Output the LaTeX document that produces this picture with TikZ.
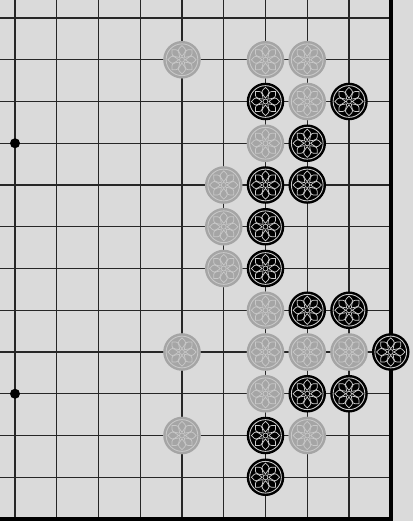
\documentclass[tikz,border=0pt]{standalone}
\usepackage{tikz}
\usetikzlibrary{positioning, calc}
\usepackage{xcolor}
\definecolor{paper}{RGB}{218,218,218}
\definecolor{whitestone}{RGB}{165,165,165}
\definecolor{whitepetal}{RGB}{200,200,200}

\tikzset{
  stone/.style={circle, minimum size=0.9cm, inner sep=0pt},
  petals/.style={
    path picture={
      \draw[#1, line width=0.6pt] (path picture bounding box.center) circle (0.38);
      \draw[#1, line width=0.5pt] (path picture bounding box.center) circle (0.06);
      \foreach \a in {0,45,...,315}
        \draw[#1, line width=0.5pt]
          ($(path picture bounding box.center)+(\a:0.08)$)
          .. controls ($(path picture bounding box.center)+(\a+26:0.26)$)
          .. ($(path picture bounding box.center)+(\a:0.34)$)
          .. controls ($(path picture bounding box.center)+(\a-26:0.26)$)
          .. ($(path picture bounding box.center)+(\a:0.08)$);
    }},
  blackstone/.style={stone, fill=black, petals=white!80!black},
  whitestone/.style={stone, fill=whitestone, petals=whitepetal},
  hoshi/.style={circle, fill=black, minimum size=0.24cm, inner sep=0pt}
}

\begin{document}
\begin{tikzpicture}[x=1cm, y=-1cm]

% Paper
\fill[paper] (-0.359,-0.431) rectangle (9.533,12.048);
\useasboundingbox (-0.359,-0.431) rectangle (9.533,12.048);

% Grid
\foreach \c in {0,...,8}
  \draw[line width=0.8pt, black!85] (\c,-0.431) -- (\c,12);
\foreach \r in {0,...,11}
  \draw[line width=0.8pt, black!85] (-0.359,\r) -- (9,\r);

% Board edges
\draw[line width=2.8pt] (9,-0.431) -- (9,12) -- (-0.359,12);

% Star points
\node[hoshi] (hoshiA) at (0,3) {};
\node[hoshi] (hoshiB) at (0,9) {};

% White stones
\foreach \c/\r in {4/1, 6/1, 7/1, 7/2, 6/3, 5/4, 5/5, 5/6, 6/7,
                   4/8, 6/8, 7/8, 8/8, 6/9, 4/10, 7/10}
  \node[whitestone] (w-\c-\r) at (\c,\r) {};

% Black stones
\foreach \c/\r in {6/2, 8/2, 7/3, 6/4, 7/4, 6/5, 6/6, 7/7, 8/7,
                   9/8, 7/9, 8/9, 6/10, 6/11}
  \node[blackstone] (b-\c-\r) at (\c,\r) {};

\end{tikzpicture}
\end{document}
